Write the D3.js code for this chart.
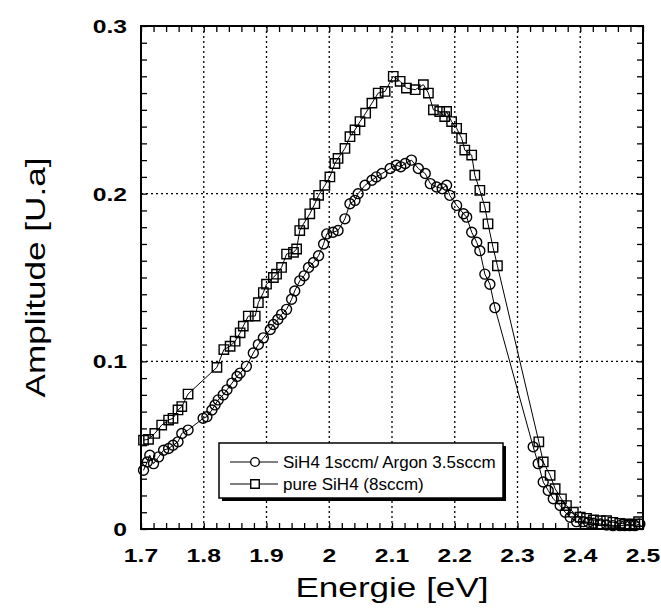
<!DOCTYPE html>
<html>
<head>
<meta charset="utf-8">
<script src="https://cdn.jsdelivr.net/npm/d3@7"></script>
<style>
  html, body { margin: 0; padding: 0; background: #fff; }
  svg { display: block; font-family: Arial, "Liberation Sans", sans-serif; }
</style>
</head>
<body>
<svg id="chart" width="661" height="613"></svg>
<script>
// ── data ───────────────────────────────────────────────────────────
const argonE = [1.704,1.710,1.714,1.720,1.728,1.736,1.744,1.751,1.759,1.765,
    1.775,1.799,1.805,1.813,1.818,1.823,1.831,1.837,1.845,1.853,
    1.858,1.868,1.879,1.887,1.895,1.906,1.911,1.918,1.924,1.932,
    1.940,1.945,1.953,1.960,1.967,1.975,1.983,1.991,1.996,2.006,
    2.014,2.025,2.033,2.041,2.046,2.057,2.068,2.075,2.084,2.097,
    2.107,2.114,2.121,2.131,2.142,2.153,2.161,2.171,2.180,2.187,
    2.192,2.203,2.214,2.219,2.227,2.235,2.240,2.248,2.256,2.264,
    2.325,2.333,2.341,2.349,2.357,2.368,2.376,2.384,2.394,2.405,
    2.413,2.421,2.432,2.442,2.452,2.463,2.471,2.479,2.487,2.495];
const argonA = [0.035,0.040,0.044,0.039,0.043,0.047,0.048,0.050,0.052,0.057,
    0.059,0.066,0.067,0.071,0.074,0.077,0.080,0.083,0.087,0.091,
    0.093,0.097,0.105,0.110,0.114,0.119,0.122,0.125,0.128,0.131,
    0.137,0.142,0.148,0.151,0.156,0.159,0.163,0.170,0.176,0.177,
    0.178,0.185,0.194,0.196,0.200,0.205,0.208,0.210,0.212,0.215,
    0.217,0.216,0.218,0.220,0.215,0.212,0.206,0.204,0.203,0.205,
    0.199,0.193,0.188,0.186,0.177,0.171,0.166,0.152,0.146,0.132,
    0.049,0.039,0.028,0.023,0.018,0.014,0.010,0.007,0.0044,0.0044,
    0.004,0.0034,0.003,0.0024,0.002,0.002,0.002,0.002,0.002,0.003];

const pureE = [1.704,1.712,1.722,1.733,1.744,1.751,1.759,1.765,1.775,
    1.821,1.832,1.842,1.850,1.858,1.863,1.871,1.882,1.887,1.895,
    1.900,1.911,1.916,1.924,1.932,1.943,1.948,1.953,1.959,1.969,
    1.977,1.983,1.993,2.001,2.009,2.014,2.025,2.033,2.041,2.049,
    2.058,2.068,2.078,2.089,2.102,2.113,2.123,2.137,2.150,2.158,
    2.166,2.176,2.184,2.187,2.195,2.203,2.211,2.216,2.227,2.232,
    2.240,2.248,2.253,2.261,2.268,
    2.334,2.341,2.352,2.360,2.370,2.378,2.389,2.400,2.410,2.421,
    2.432,2.442,2.452,2.463,2.471,2.479,2.487,2.493];
const pureA = [0.053,0.0535,0.057,0.062,0.065,0.066,0.071,0.073,0.0805,
    0.0964,0.107,0.109,0.112,0.117,0.121,0.127,0.127,0.135,0.141,
    0.146,0.150,0.152,0.156,0.164,0.165,0.167,0.178,0.182,0.188,
    0.194,0.199,0.205,0.210,0.218,0.221,0.227,0.234,0.238,0.243,
    0.248,0.254,0.260,0.261,0.270,0.267,0.263,0.262,0.265,0.260,
    0.250,0.249,0.246,0.249,0.243,0.239,0.233,0.226,0.223,0.211,
    0.202,0.192,0.182,0.168,0.157,
    0.052,0.040,0.032,0.024,0.018,0.014,0.010,0.007,0.0064,0.0054,
    0.005,0.005,0.004,0.0034,0.003,0.0024,0.003,0.0044];

const xTicks = [1.7, 1.8, 1.9, 2, 2.1, 2.2, 2.3, 2.4, 2.5];
const yTicks = [0, 0.1, 0.2, 0.3];
const seriesNames = ["SiH4 1sccm/ Argon 3.5sccm", "pure SiH4 (8sccm)"];
const xTitle = "Energie [eV]";
const yTitle = "Amplitude [U.a]";

// ── layout ─────────────────────────────────────────────────────────
const svg = d3.select("#chart");
const pLeft = 141, pRight = 643, pTop = 26, pBottom = 529;
const stretch = 1.3;   // the scanned text is wider than the font
const circleSize = 78, squareSize = 88;

const x = d3.scaleLinear().domain([1.7, 2.5]).range([pLeft, pRight]);
const y = d3.scaleLinear().domain([0, 0.3]).range([pBottom, pTop]);

// 1) dotted grid at the inner major ticks
const grid = svg.append("g").attr("stroke", "#000").attr("stroke-width", 1.3)
    .attr("stroke-dasharray", "2,3");
xTicks.slice(1, -1).forEach(t => grid.append("line")
    .attr("x1", x(t)).attr("x2", x(t)).attr("y1", pTop).attr("y2", pBottom));
yTicks.slice(1, -1).forEach(t => grid.append("line")
    .attr("x1", pLeft).attr("x2", pRight).attr("y1", y(t)).attr("y2", y(t)));

// 2) axes with inward ticks on all four sides
const minorX = d3.range(1.7, 2.5001, 0.02);
const minorY = d3.range(0, 0.3001, 0.01);
svg.append("g").attr("transform", `translate(0,${pBottom})`)
    .call(d3.axisBottom(x).tickValues(minorX).tickSize(-6).tickFormat(""));
svg.append("g").attr("transform", `translate(0,${pTop})`)
    .call(d3.axisTop(x).tickValues(minorX).tickSize(-6).tickFormat(""));
svg.append("g").attr("transform", `translate(${pLeft},0)`)
    .call(d3.axisLeft(y).tickValues(minorY).tickSize(-6).tickFormat(""));
svg.append("g").attr("transform", `translate(${pRight},0)`)
    .call(d3.axisRight(y).tickValues(minorY).tickSize(-6).tickFormat(""));
svg.selectAll(".tick line").attr("stroke", "#000").attr("stroke-width", 1.3);
svg.selectAll(".domain").remove();
svg.append("rect").attr("x", pLeft).attr("y", pTop)
    .attr("width", pRight - pLeft).attr("height", pBottom - pTop)
    .attr("fill", "none").attr("stroke", "#000").attr("stroke-width", 2);

// helper: horizontally stretched text
function label(tx, ty, str, size, anchor, weight, rot) {
    return svg.append("text")
        .attr("transform", `translate(${tx},${ty})` + (rot ? ` rotate(${rot})` : "") + ` scale(${stretch},1)`)
        .attr("text-anchor", anchor)
        .attr("font-size", size)
        .attr("font-weight", weight)
        .attr("fill", "#000")
        .text(str);
}

// 3) tick labels
xTicks.forEach(t => label(x(t), 562, d3.format("")(t), 19, "middle", "bold"));
yTicks.forEach(t => label(127, y(t) + 7, d3.format("")(t), 19, "end", "bold"));

// 4) axis titles
label((pLeft + pRight) / 2, 597, xTitle, 27, "middle", "normal");
label(45, (pTop + pBottom) / 2, yTitle, 27, "middle", "normal", -90);

// 5) the two series
const line = d3.line().x(d => x(d[0])).y(d => y(d[1]));
const argon = d3.zip(argonE, argonA);
const pure = d3.zip(pureE, pureA);

function drawSeries(data, shape) {
    const g = svg.append("g");
    g.append("path").datum(data).attr("d", line)
        .attr("fill", "none").attr("stroke", "#000").attr("stroke-width", 1);
    const sym = d3.symbol().type(shape).size(shape === d3.symbolCircle ? circleSize : squareSize);
    g.selectAll("path.m").data(data).enter().append("path")
        .attr("class", "m")
        .attr("transform", d => `translate(${x(d[0])},${y(d[1])})`)
        .attr("d", sym)
        .attr("fill", "none").attr("stroke", "#000").attr("stroke-width", 1.4);
}
drawSeries(pure, d3.symbolSquare);
drawSeries(argon, d3.symbolCircle);

// 6) legend box with drop shadow
const lg = svg.append("g");
const lx = 219, ly = 443, lw = 284, lh = 55;
lg.append("rect").attr("x", lx + 3).attr("y", ly + 3).attr("width", lw).attr("height", lh)
    .attr("fill", "#000");
lg.append("rect").attr("x", lx).attr("y", ly).attr("width", lw).attr("height", lh)
    .attr("fill", "#fff").attr("stroke", "#000").attr("stroke-width", 1.5);
[d3.symbolCircle, d3.symbolSquare].forEach((shape, i) => {
    const ry = 462 + i * 22;
    lg.append("line").attr("x1", 230).attr("x2", 278).attr("y1", ry).attr("y2", ry)
        .attr("stroke", "#000").attr("stroke-width", 1);
    lg.append("path").attr("transform", `translate(255,${ry})`)
        .attr("d", d3.symbol().type(shape).size(shape === d3.symbolCircle ? 60 : 72))
        .attr("fill", "#fff").attr("stroke", "#000").attr("stroke-width", 1.4);
    lg.append("text").attr("x", 283).attr("y", ry + 6)
        .attr("font-size", 17).attr("fill", "#000")
        .text(seriesNames[i]);
});
</script>
</body>
</html>
